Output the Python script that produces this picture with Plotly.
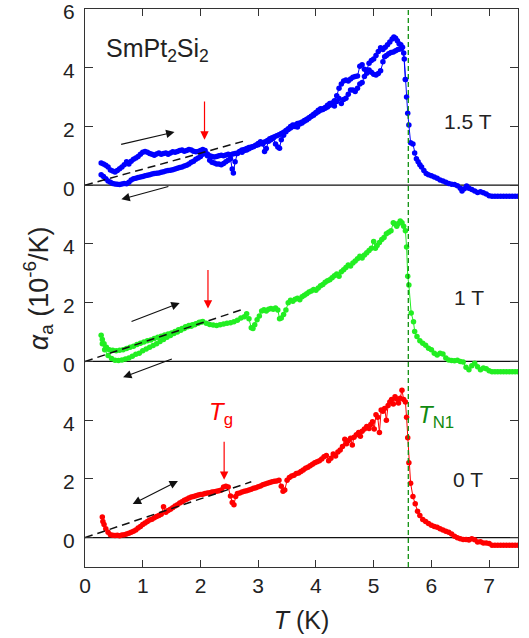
import plotly.graph_objects as go

# ---------------- data (alpha_a in 1e-6/K, T in K) ----------------
OFF_0T, OFF_1T, OFF_15T = 0, 6, 12

t_0T = [0.30,0.31,0.33,0.36,0.40,0.44,0.48,0.52,0.56,0.60,0.64,0.68,0.72,0.76,0.80,0.84,0.88,0.92,0.96,1.00,
        1.04,1.08,1.12,1.16,1.20,1.24,1.28,1.32,1.36,1.40,1.44,1.48,1.52,1.56,1.60,1.64,1.68,1.72,1.76,1.80,
        1.84,1.88,1.92,1.96,2.00,2.04,2.08,2.12,2.16,2.20,2.24,2.28,2.32,2.36,2.40,2.44,2.48,2.52,2.55,2.58,
        2.61,2.64,2.68,2.72,2.76,2.80,2.84,2.88,2.92,2.96,3.00,3.04,3.08,3.12,3.16,3.20,3.24,3.28,3.32,3.36,
        3.40,3.43,3.46,3.50,3.54,3.58,3.62,3.66,3.70,3.74,3.78,3.82,3.86,3.90,3.94,3.98,4.02,4.06,4.10,4.14,
        4.18,4.22,4.26,4.30,4.34,4.38,4.42,4.46,4.50,4.53,4.56,4.60,4.63,4.66,4.70,4.74,4.77,4.80,4.84,4.88,
        4.92,4.95,4.98,5.01,5.04,5.07,5.10,5.13,5.16,5.19,5.22,5.25,5.28,5.31,5.34,5.37,5.40,5.43,5.46,5.49,
        5.52,5.55,5.57,5.59,5.61,5.64,5.68,5.72,5.76,5.80,5.85,5.90,5.95,6.00,6.05,6.10,6.15,6.20,6.25,6.30,
        6.35,6.40,6.45,6.50,6.55,6.60,6.65,6.70,6.75,6.80,6.85,6.90,6.95,7.00,7.05,7.10,7.15,7.20,7.25,7.30,
        7.35,7.40,7.45,7.50]
a_0T = [0.70,0.55,0.45,0.30,0.18,0.10,0.08,0.07,0.08,0.06,0.09,0.10,0.12,0.15,0.18,0.22,0.26,0.33,0.38,0.45,
        0.50,0.55,0.60,0.63,0.68,0.72,0.75,0.80,1.05,0.86,0.92,0.97,1.02,1.08,1.12,1.18,1.22,1.27,1.31,1.35,
        1.38,1.40,1.43,1.45,1.47,1.48,1.50,1.52,1.53,1.55,1.56,1.58,1.60,1.62,1.72,1.75,1.72,1.42,1.20,1.12,
        1.40,1.50,1.52,1.55,1.58,1.60,1.62,1.65,1.68,1.70,1.73,1.76,1.80,1.83,1.85,1.88,1.90,1.92,1.93,1.95,
        1.75,1.58,1.62,1.95,2.05,2.10,2.12,2.18,2.20,2.25,2.30,2.36,2.40,2.45,2.50,2.55,2.58,2.62,2.68,2.75,
        2.80,2.62,2.70,2.85,2.78,2.92,2.98,3.10,3.35,3.20,3.30,3.38,3.15,3.42,3.50,3.58,3.45,3.62,3.70,3.78,
        3.72,3.85,3.95,3.70,4.18,4.10,3.58,4.35,4.30,4.40,4.00,4.50,4.62,4.70,4.55,4.80,4.72,4.58,4.75,5.02,
        4.70,4.62,4.10,3.40,2.55,1.85,1.40,1.15,0.90,0.75,0.62,0.55,0.48,0.42,0.38,0.35,0.30,0.26,0.22,0.18,
        0.12,0.05,0.00,-0.04,-0.06,-0.06,-0.08,-0.04,-0.07,-0.15,-0.14,-0.18,-0.18,-0.20,-0.26,-0.26,-0.26,-0.26,-0.26,-0.26,
        -0.26,-0.26,-0.26,-0.26]

t_1T_warm = [0.28,0.30,0.33,0.37,0.42,0.48,0.54,0.60,0.66,0.72,0.78,0.84,0.90,0.96,1.02,1.08,1.14,1.20,1.26,1.32,
             1.38,1.44,1.50,1.56,1.62,1.68,1.74,1.80,1.86,1.92,1.98,2.04,2.10,2.16,2.22,2.28,2.34,2.40,2.46,2.52,
             2.58,2.64,2.70,2.76,2.80,2.84,2.88,2.91,2.94,2.98,3.02,3.06,3.10,3.14,3.18,3.22,3.26,3.30,3.34,3.37,
             3.40,3.44,3.48,3.52,3.56,3.60,3.64,3.68,3.72,3.76,3.80,3.84,3.88,3.92,3.96,4.00,4.04,4.08,4.12,4.16,
             4.20,4.24,4.28,4.32,4.36,4.40,4.44,4.48,4.52,4.56,4.60,4.64,4.68,4.72,4.76,4.80,4.84,4.88,4.92,4.96,
             5.00,5.03,5.06,5.10,5.14,5.18,5.22,5.26,5.30,5.34,5.37,5.40,5.43,5.46,5.49,5.52,5.55,5.57,5.59,5.61,
             5.65,5.69,5.71,5.75,5.80,5.85,5.90,5.95,6.00,6.05,6.10,6.15,6.20,6.25,6.30,6.35,6.40,6.45,6.50,6.55,
             6.60,6.65,6.70,6.75,6.80,6.85,6.90,6.95,7.00,7.05,7.10,7.15,7.20,7.25,7.30,7.35,7.40,7.45,7.50]
a_1T_warm = [0.89,0.75,0.60,0.48,0.40,0.38,0.36,0.38,0.40,0.44,0.48,0.52,0.58,0.62,0.66,0.70,0.73,0.78,0.82,0.86,
             0.90,0.93,0.97,1.02,1.08,1.12,1.18,1.22,1.25,1.28,1.33,1.36,1.30,1.26,1.24,1.22,1.25,1.27,1.30,1.32,
             1.35,1.40,1.48,1.52,1.62,1.45,1.15,1.12,1.25,1.42,1.55,1.72,1.76,1.72,1.78,1.80,1.78,1.82,1.75,1.45,
             1.48,1.60,1.75,2.00,2.08,2.05,2.12,2.15,2.10,2.20,2.25,2.30,2.36,2.40,2.45,2.42,2.50,2.58,2.62,2.70,
             2.75,2.78,2.85,2.92,2.98,2.90,3.05,3.12,3.20,3.28,3.25,3.35,3.42,3.50,3.58,3.52,3.62,3.70,3.78,3.85,
             4.08,3.85,3.95,4.05,4.15,4.22,4.35,4.40,4.45,4.72,4.68,4.60,4.70,4.78,4.72,4.60,4.45,3.90,2.90,2.60,
             1.65,1.35,1.02,0.85,0.70,0.62,0.55,0.45,0.40,0.28,0.22,0.28,0.25,0.12,0.05,0.03,0.02,0.04,0.00,-0.02,
             -0.20,-0.28,-0.15,-0.06,-0.18,-0.28,-0.22,-0.25,-0.32,-0.35,-0.35,-0.35,-0.35,-0.35,-0.35,-0.35,-0.35,-0.35,-0.35]

t_1T_cool = [0.30,0.34,0.40,0.46,0.52,0.58,0.64,0.70,0.76,0.82,0.88,0.94,1.00,1.06,1.12,1.18,1.24,1.30,1.36,1.42,
             1.48,1.54,1.60,1.66,1.72,1.78,1.84,1.90,1.96,2.02]
a_1T_cool = [0.60,0.40,0.20,0.10,0.04,0.03,0.05,0.08,0.12,0.18,0.24,0.28,0.36,0.42,0.48,0.54,0.60,0.68,0.75,0.82,
             0.88,0.95,1.00,1.06,1.12,1.18,1.20,1.25,1.30,1.34]

t_15T_warm = [0.28,0.32,0.36,0.40,0.44,0.48,0.52,0.56,0.60,0.64,0.68,0.72,0.76,0.80,0.84,0.88,0.92,0.96,1.00,1.04,
              1.08,1.12,1.16,1.20,1.24,1.28,1.32,1.36,1.40,1.44,1.48,1.52,1.56,1.60,1.64,1.68,1.72,1.76,1.80,1.84,
              1.88,1.92,1.96,2.00,2.04,2.08,2.12,2.16,2.20,2.24,2.28,2.32,2.36,2.40,2.44,2.48,2.52,2.55,2.57,2.60,
              2.64,2.68,2.72,2.76,2.80,2.84,2.88,2.92,2.96,3.00,3.04,3.08,3.11,3.14,3.18,3.22,3.26,3.30,3.34,3.37,
              3.40,3.44,3.48,3.52,3.56,3.60,3.64,3.68,3.72,3.76,3.80,3.84,3.88,3.92,3.96,4.00,4.04,4.08,4.12,4.16,
              4.20,4.24,4.28,4.32,4.36,4.40,4.44,4.48,4.52,4.56,4.60,4.64,4.68,4.72,4.76,4.80,4.84,4.88,4.92,4.96,
              5.00,5.04,5.08,5.12,5.16,5.20,5.24,5.28,5.32,5.35,5.38,5.41,5.44,5.47,5.50,5.53,5.55,5.57,5.59,5.61,
              5.64,5.68,5.71,5.74,5.77,5.80,5.83,5.87,5.91,5.95,6.00,6.05,6.10,6.15,6.20,6.25,6.30,6.35,6.40,6.45,
              6.50,6.53,6.57,6.61,6.65,6.70,6.75,6.80,6.85,6.90,6.95,7.00,7.05,7.10,7.15,7.20,7.25,7.30,7.35,7.40,
              7.45,7.50]
a_15T_warm = [0.76,0.72,0.68,0.62,0.52,0.48,0.45,0.50,0.56,0.62,0.70,0.80,0.72,0.82,0.88,0.93,0.98,1.05,1.12,1.15,
              1.12,1.08,1.05,1.02,1.06,1.10,1.05,1.08,1.10,1.05,1.10,1.14,1.12,1.15,1.18,1.20,1.16,1.18,1.22,1.20,
              1.16,1.14,1.15,1.18,1.22,1.18,1.00,0.85,0.78,0.76,0.72,0.72,0.70,0.74,0.80,0.85,0.90,0.55,0.42,0.80,
              1.08,1.15,1.20,1.22,1.25,1.28,1.30,1.32,1.36,1.42,1.48,1.40,1.15,1.25,1.50,1.55,1.60,1.40,1.30,1.26,
              1.55,1.70,1.82,1.92,2.00,2.05,2.00,1.98,2.08,2.12,2.18,2.22,2.28,2.35,2.42,2.48,2.55,2.60,2.58,2.65,
              2.72,2.78,2.80,2.88,3.05,3.30,3.45,3.55,3.58,3.55,3.62,3.68,3.70,3.72,4.05,4.10,3.95,3.92,4.15,4.25,
              4.30,4.42,4.55,4.68,4.62,4.70,4.78,4.88,4.98,5.05,5.00,4.92,4.82,4.78,4.70,4.30,3.60,3.00,2.45,2.05,
              1.45,1.40,1.10,0.90,0.80,0.70,0.62,0.50,0.40,0.36,0.32,0.28,0.24,0.18,0.14,0.10,0.06,0.03,0.02,-0.02,
              -0.10,-0.20,-0.12,-0.03,-0.10,-0.15,-0.20,-0.25,-0.22,-0.26,-0.30,-0.36,-0.38,-0.38,-0.38,-0.38,-0.38,-0.38,-0.38,-0.38,
              -0.38,-0.38]

t_15T_cool = [0.28,0.32,0.36,0.40,0.44,0.48,0.52,0.56,0.60,0.64,0.68,0.72,0.76,0.80,0.84,0.88,0.92,0.96,1.00,1.04,
              1.08,1.12,1.16,1.20,1.24,1.28,1.32,1.36,1.40,1.44,1.48,1.52,1.56,1.60,1.64,1.68,1.72,1.76,1.80,1.84,
              1.88,1.92,1.96,2.00,2.04,2.08,2.12,2.16,2.20,2.24,2.28,2.32,2.36,2.40,2.44,2.48,2.52,2.56,2.60,2.64,
              2.68,2.72,2.76,2.80,2.84,2.88,2.92,2.96,3.00,3.04,3.08,3.12,3.16,3.20,3.24,3.28,3.32,3.36,3.40,3.44,
              3.48,3.52,3.56,3.60,3.64,3.68,3.72,3.76,3.80,3.84,3.88,3.92,3.96,4.00,4.04,4.08,4.12,4.16,4.20,4.24,
              4.28,4.32,4.36,4.40,4.44,4.48,4.52,4.56,4.60,4.64,4.68,4.72,4.76,4.80,4.84,4.88,4.92,4.96,5.00,5.04,
              5.08,5.12,5.16,5.19,5.22,5.26,5.30,5.34,5.38,5.42,5.46,5.48,5.52,5.55]
a_15T_cool = [0.36,0.30,0.22,0.14,0.10,0.06,0.04,0.03,0.02,0.04,0.06,0.05,0.10,0.18,0.22,0.24,0.26,0.28,0.30,0.32,
              0.34,0.36,0.38,0.40,0.41,0.42,0.44,0.46,0.48,0.50,0.51,0.53,0.55,0.58,0.60,0.62,0.65,0.68,0.72,0.78,
              0.82,0.88,0.93,0.98,1.05,1.10,1.06,1.00,0.98,0.96,0.98,1.00,1.02,1.00,1.03,1.05,1.04,1.06,1.08,1.10,
              1.15,1.12,1.18,1.20,1.24,1.28,1.32,1.36,1.38,1.42,1.45,1.48,1.52,1.58,1.62,1.65,1.68,1.72,1.76,1.80,
              1.86,1.90,1.95,2.00,2.05,2.10,2.12,2.15,2.20,2.25,2.30,2.35,2.38,2.45,2.50,2.55,2.60,2.62,2.66,2.72,
              2.78,2.70,2.85,2.95,2.78,2.92,2.96,3.10,3.24,3.24,3.19,3.30,3.45,3.50,3.70,3.81,3.92,3.85,3.78,3.75,
              3.80,3.90,4.20,4.37,4.42,4.48,4.52,4.54,4.58,4.62,4.64,4.66,4.50,3.60]

# linear guide lines (T, alpha) end points
fit_T_15T = [0.0, 2.75]
fit_a_15T = [0.0, 1.50]
fit_T_1T = [0.0, 2.70]
fit_a_1T = [0.0, 1.75]
fit_T_0T = [0.0, 2.88]
fit_a_0T = [0.0, 1.90]

T_N1 = 5.6
T_g = [2.07, 2.13, 2.41]   # arrow positions for 1.5 T, 1 T, 0 T

ytick_vals = [0, 2, 4, 6, 8, 10, 12, 14, 16, 18]
ytick_text = ["0", "2", "4", "0", "2", "4", "0", "2", "4", "6"]
xtick_vals = [0, 1, 2, 3, 4, 5, 6, 7]

BLUE, GREEN, RED = "#0000ff", "#22ee22", "#ff0000"
FONT = "Liberation Sans, Arial, sans-serif"
TXT = "#222222"

fig = go.Figure()

def add_curve(t, a, off, color):
    fig.add_trace(go.Scatter(
        x=t, y=[v + off for v in a], mode="lines+markers",
        line=dict(color=color, width=1),
        marker=dict(color=color, size=5.5, line=dict(width=0)),
        showlegend=False, hoverinfo="skip"))

# zero lines
for off in (OFF_0T, OFF_1T, OFF_15T):
    fig.add_trace(go.Scatter(x=[0, 7.5], y=[off, off], mode="lines",
                             line=dict(color="#111111", width=1.2),
                             showlegend=False, hoverinfo="skip"))

add_curve(t_0T, a_0T, OFF_0T, RED)
add_curve(t_1T_cool, a_1T_cool, OFF_1T, GREEN)
add_curve(t_1T_warm, a_1T_warm, OFF_1T, GREEN)
add_curve(t_15T_cool, a_15T_cool, OFF_15T, BLUE)
add_curve(t_15T_warm, a_15T_warm, OFF_15T, BLUE)

for ft, fa, off in ((fit_T_0T, fit_a_0T, OFF_0T), (fit_T_1T, fit_a_1T, OFF_1T), (fit_T_15T, fit_a_15T, OFF_15T)):
    fig.add_trace(go.Scatter(x=ft, y=[v + off for v in fa], mode="lines",
                             line=dict(color="#111111", width=1.5, dash="8px,5px"),
                             showlegend=False, hoverinfo="skip"))

# T_N1 vertical dashed line
fig.add_trace(go.Scatter(x=[T_N1, T_N1], y=[-1, 18], mode="lines",
                         line=dict(color="#109010", width=1.3, dash="5px,3px"),
                         showlegend=False, hoverinfo="skip"))

ann = []
def arrow(x0, y0, x1, y1, color, both=False, width=1.2):
    d = dict(x=x1, y=y1, ax=x0, ay=y0, xref="x", yref="y", axref="x", ayref="y",
             text="", showarrow=True, arrowhead=2, arrowsize=1.4, arrowwidth=width,
             arrowcolor=color)
    if both:
        d.update(arrowside="end+start", startarrowhead=2, startarrowsize=1.4)
    ann.append(d)

# red T_g arrows
arrow(T_g[0], OFF_15T + 2.90, T_g[0], OFF_15T + 1.55, RED)
arrow(T_g[1], OFF_1T + 3.16, T_g[1], OFF_1T + 1.80, RED)
arrow(T_g[2], OFF_0T + 3.32, T_g[2], OFF_0T + 1.97, RED)

# black heating / cooling arrows
arrow(0.60, OFF_15T + 1.38, 1.55, OFF_15T + 1.81, "#111111")
arrow(1.47, OFF_15T - 0.03, 0.63, OFF_15T - 0.48, "#111111")
arrow(0.78, OFF_1T + 1.34, 1.64, OFF_1T + 1.99, "#111111")
arrow(1.53, OFF_1T + 0.10, 0.66, OFF_1T - 0.54, "#111111")
arrow(0.80, OFF_0T + 1.12, 1.61, OFF_0T + 1.93, "#111111", both=True)

def label(x, y, text, color=TXT, size=20, xanchor="center"):
    ann.append(dict(x=x, y=y, xref="x", yref="y", text=text, showarrow=False,
                    font=dict(family=FONT, size=size, color=color), xanchor=xanchor, yanchor="middle"))

label(0.33, OFF_15T + 4.6, "SmPt<sub>2</sub>Si<sub>2</sub>", size=25, xanchor="left")
label(6.63, OFF_15T + 2.17, "1.5 T", size=21)
label(6.65, OFF_1T + 2.18, "1 T", size=21)
label(6.63, OFF_0T + 1.97, "0 T", size=21)
label(2.36, OFF_0T + 4.24, "<i>T</i><sub>g</sub>", color=RED, size=24)
label(6.08, OFF_0T + 4.13, "<i>T</i><sub>N1</sub>", color="#108a10", size=24)

# y axis title as rotated annotation (centred on the plot)
ann.append(dict(x=-0.108, y=0.5, xref="paper", yref="paper", showarrow=False, textangle=-90,
                text="<i>α</i><sub>a</sub> (10<sup>-6</sup>/K)", xanchor="center", yanchor="middle",
                font=dict(family=FONT, size=27, color=TXT)))

fig.update_layout(
    width=529, height=638,
    margin=dict(l=85, r=11, t=9, b=71),
    paper_bgcolor="white", plot_bgcolor="white",
    font=dict(family=FONT, size=21, color=TXT),
    annotations=ann,
    xaxis=dict(range=[0, 7.5], tickvals=xtick_vals, ticks="inside", ticklen=7, tickwidth=1.2,
               tickcolor="#333333", showline=True, linecolor="#333333", linewidth=1.3, mirror="ticks",
               showgrid=False, zeroline=False, tickfont=dict(size=21), automargin=False,
               ticklabeloverflow="allow",
               title=dict(text="<i>T</i> (K)", font=dict(size=25), standoff=15)),
    yaxis=dict(range=[-1, 18], tickvals=ytick_vals, ticktext=ytick_text, ticks="inside", ticklen=8,
               tickwidth=1.2, tickcolor="#333333", showline=True, linecolor="#333333", linewidth=1.3,
               mirror="ticks", showgrid=False, zeroline=False, tickfont=dict(size=21), automargin=False,
               ticklabeloverflow="allow", ticklabelshift=3, ticklabelstandoff=5),
)

fig.write_html("out.html", config={"displayModeBar": False},
               post_script="document.body.style.margin='0';document.body.style.overflow='hidden';")
